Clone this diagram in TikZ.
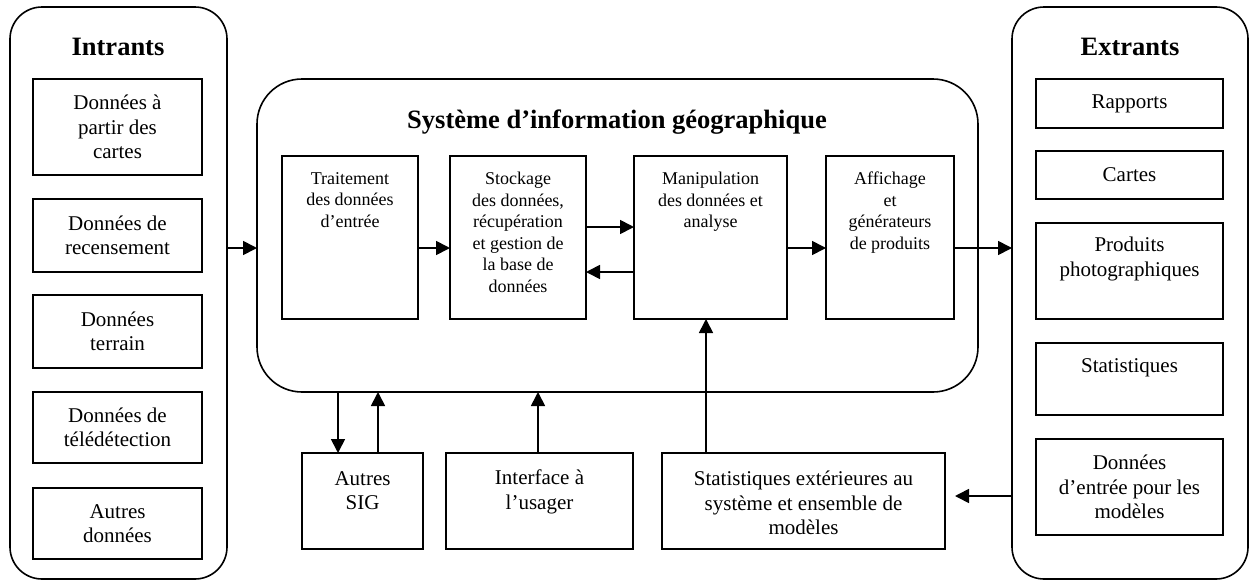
\documentclass[tikz,border=0pt]{standalone}
\usepackage{fontspec}
\setmainfont{Liberation Serif}
\usetikzlibrary{arrows.meta,calc}
\begin{document}
\begin{tikzpicture}[x=1pt,y=-1pt,
  panel/.style={draw, line width=1.6pt, inner sep=0pt, outer sep=0pt},
  box/.style={draw, line width=2pt, inner sep=0pt, outer sep=0pt},
  big/.style={font=\fontsize{21}{24.5}\selectfont, align=center, inner sep=0pt},
  small/.style={font=\fontsize{18}{21.5}\selectfont, align=center, inner sep=0pt},
  ttl/.style={font=\bfseries\fontsize{26.5}{30}\selectfont, inner sep=0pt, anchor=base},
  arr/.style={line width=1.7pt, -{Triangle[length=14pt,width=14pt]}}]
\useasboundingbox (0,0) rectangle (1251,581);

% panels
\node[panel, rounded corners=32pt, minimum width=217pt, minimum height=572pt] (lp) at (118.5,293) {};
\node[panel, rounded corners=32pt, minimum width=236pt, minimum height=572pt] (rp) at (1130,293) {};
\node[panel, rounded corners=45pt, minimum width=721pt, minimum height=313pt] (sig) at (617.5,235.5) {};

% titles
\node[ttl] (tin) at (118,55) {Intrants};
\node[ttl] (tout) at (1130,55) {Extrants};
\node[ttl] (tsig) at (617,128) {Système d’information géographique};

% left boxes
\node[box, big, minimum width=169pt, minimum height=96pt] (l1) at (117.5,127) {Données à\\partir des\\cartes};
\node[box, big, minimum width=169pt, minimum height=73pt] (l2) at (117.5,235.5) {Données de\\recensement};
\node[box, big, minimum width=169pt, minimum height=73pt] (l3) at (117.5,331.5) {Données\\terrain};
\node[box, big, minimum width=169pt, minimum height=71pt] (l4) at (117.5,427.5) {Données de\\télédétection};
\node[box, big, minimum width=169pt, minimum height=71pt] (l5) at (117.5,523.5) {Autres\\données};

% right boxes
\node[box, big, minimum width=187pt, minimum height=49pt] (r1) at (1129.5,103.5) {Rapports};
\node[box, big, minimum width=187pt, minimum height=48pt] (r2) at (1129.5,175) {Cartes};
\node[box, minimum width=187pt, minimum height=96pt] (r3) at (1129.5,271) {};
\node[big, anchor=north] (r3t) at ($(r3.north)+(0,14)$) {Produits\\photographiques};
\node[box, minimum width=187pt, minimum height=72pt] (r4) at (1129.5,379) {};
\node[big, anchor=north] (r4t) at ($(r4.north)+(0,15)$) {Statistiques};
\node[box, big, minimum width=187pt, minimum height=96pt] (r5) at (1129.5,487) {Données\\d’entrée pour les\\modèles};

% inner boxes
\node[box, minimum width=136pt, minimum height=163pt] (trait) at (350,237.5) {};
\node[small, anchor=north] (traitt) at ($(trait.north)+(0,16)$) {Traitement\\des données\\d’entrée};
\node[box, minimum width=136pt, minimum height=163pt] (stock) at (518,237.5) {};
\node[small, anchor=north] (stockt) at ($(stock.north)+(0,16)$) {Stockage\\des données,\\récupération\\et gestion de\\la base de\\données};
\node[box, minimum width=153pt, minimum height=163pt] (manip) at (710.5,237.5) {};
\node[small, anchor=north] (manipt) at ($(manip.north)+(0,16)$) {Manipulation\\des données et\\analyse};
\node[box, minimum width=128pt, minimum height=163pt] (aff) at (890,237.5) {};
\node[small, anchor=north] (afft) at ($(aff.north)+(0,16)$) {Affichage\\et\\générateurs\\de produits};

% bottom boxes
\node[box, minimum width=121pt, minimum height=96pt] (sig2) at (362.5,501) {};
\node[big, anchor=north] (sig2t) at ($(sig2.north)+(0,18)$) {Autres\\SIG};
\node[box, minimum width=187pt, minimum height=96pt] (iface) at (539.5,501) {};
\node[big, anchor=north] (ifacet) at ($(iface.north)+(0,17)$) {Interface à\\l’usager};
\node[box, minimum width=283pt, minimum height=96pt] (stat) at (803.5,501) {};
\node[big, anchor=north] (statt) at ($(stat.north)+(0,18)$) {Statistiques extérieures au\\système et ensemble de\\modèles};

% connectors
\draw[arr] (lp.east |- 0,248) -- (sig.west |- 0,248);
\draw[arr] (trait.east |- 0,248) -- (stock.west |- 0,248);
\draw[arr] (stock.east |- 0,227) -- (manip.west |- 0,227);
\draw[arr] (manip.west |- 0,272) -- (stock.east |- 0,272);
\draw[arr] (manip.east |- 0,248) -- (aff.west |- 0,248);
\draw[arr] (aff.east |- 0,248) -- (rp.west |- 0,248);
\draw[arr] (sig.south -| 338,0) -- (sig2.north -| 338,0);
\draw[arr] (sig2.north -| 378,0) -- (sig.south -| 378,0);
\draw[arr] (iface.north -| 538,0) -- (sig.south -| 538,0);
\draw[arr] (stat.north -| 706,0) -- (manip.south -| 706,0);
\draw[arr, shorten >=10pt] (rp.west |- 0,496) -- (stat.east |- 0,496);
\end{tikzpicture}
\end{document}
